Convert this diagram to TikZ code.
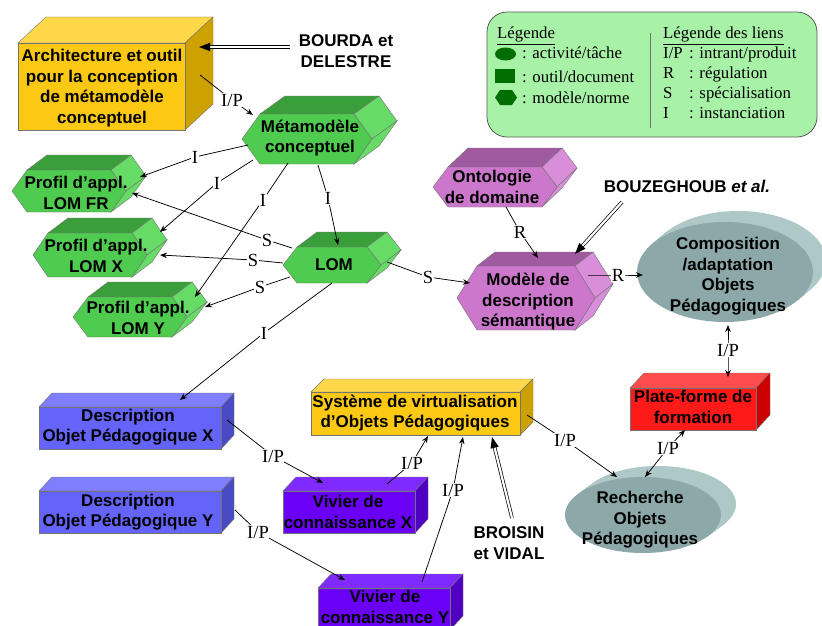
\documentclass[tikz,border=0pt]{standalone}
\usepackage{fontspec}
\setmainfont{Liberation Serif}
\setsansfont{Liberation Sans}
\usetikzlibrary{arrows.meta,calc}
\definecolor{yelF}{HTML}{FBC814}
\definecolor{yelT}{HTML}{FFD84A}
\definecolor{yelS}{HTML}{CCA100}
\definecolor{grnF}{HTML}{4FCB4F}
\definecolor{grnT}{HTML}{3A9E3A}
\definecolor{grnS}{HTML}{66DB66}
\definecolor{pnkF}{HTML}{CC77CC}
\definecolor{pnkT}{HTML}{A05AA0}
\definecolor{pnkS}{HTML}{D98ED9}
\definecolor{bluF}{HTML}{6464FA}
\definecolor{bluT}{HTML}{7E7EFF}
\definecolor{bluS}{HTML}{4A4AC2}
\definecolor{purF}{HTML}{6A00F6}
\definecolor{purT}{HTML}{7F2BFF}
\definecolor{purS}{HTML}{5000C2}
\definecolor{redF}{HTML}{FF1A1A}
\definecolor{redT}{HTML}{FF4D4D}
\definecolor{redS}{HTML}{CC0000}
\definecolor{gryF}{HTML}{8CA8A8}
\definecolor{gryB}{HTML}{AEC7C7}
\definecolor{legF}{HTML}{A8F2A8}
\definecolor{legS}{HTML}{006E00}
\tikzset{
 shapeline/.style={draw=black!55, line width=0.4pt},
 lab/.style={font=\sffamily\bfseries\fontsize{17}{20.5}\selectfont, align=center, inner sep=0pt},
 lbl/.style={font=\fontsize{18.5}{18.5}\selectfont, fill=white, inner sep=0.6pt},
 leg/.style={font=\fontsize{16.8}{20}\selectfont, anchor=base west, inner sep=0pt},
 arr/.style={draw=black, line width=0.75pt, -{Stealth[length=7pt,width=5.5pt]}},
 arrb/.style={draw=black, line width=0.75pt, {Stealth[length=7pt,width=5.5pt]}-{Stealth[length=7pt,width=5.5pt]}},
}
\newcommand{\cuboid}[7]{%
 \filldraw[fill=#7T,shapeline] (#1,#2) -- ({#1+#5},{#2-#6}) -- ({#3+#5},{#2-#6}) -- (#3,#2) -- cycle;
 \filldraw[fill=#7S,shapeline] (#3,#2) -- ({#3+#5},{#2-#6}) -- ({#3+#5},{#4-#6}) -- (#3,#4) -- cycle;
 \filldraw[fill=#7F,shapeline] (#1,#2) rectangle (#3,#4);}
\newcommand{\hexprism}[8]{%
 \filldraw[fill=#8T,shapeline] ({#1-#3+#5},{#2-#4}) -- ({#1-#3+#5+#6},{#2-#4-#7}) -- ({#1+#3-#5+#6},{#2-#4-#7}) -- ({#1+#3-#5},{#2-#4}) -- cycle;
 \filldraw[fill=#8S,shapeline] ({#1+#3-#5},{#2-#4}) -- ({#1+#3-#5+#6},{#2-#4-#7}) -- ({#1+#3+#6},{#2-#7}) -- ({#1+#3},{#2}) -- cycle;
 \filldraw[fill=#8S,shapeline] ({#1+#3},{#2}) -- ({#1+#3+#6},{#2-#7}) -- ({#1+#3-#5+#6},{#2+#4-#7}) -- ({#1+#3-#5},{#2+#4}) -- cycle;
 \filldraw[fill=#8F,shapeline] ({#1-#3},{#2}) -- ({#1-#3+#5},{#2-#4}) -- ({#1+#3-#5},{#2-#4}) -- ({#1+#3},{#2}) -- ({#1+#3-#5},{#2+#4}) -- ({#1-#3+#5},{#2+#4}) -- cycle;}
\newcommand{\disc}[6]{%
 \foreach \k in {10,9,...,1}{\fill[gryB] ({#1+\k*#5/10},{#2-\k*#6/10}) ellipse [x radius=#3, y radius=#4];}
 \fill[gryF] (#1,#2) ellipse [x radius=#3, y radius=#4];}
\newcommand{\dbl}[2]{%
 \coordinate (#1base) at ($(#2)!11pt!(#1)$);
 \coordinate (#1end) at ($(#2)!9pt!(#1)$);
 \draw[line width=0.7pt, double distance=2.2pt] (#1) -- (#1end);
 \fill[black] (#2) -- ($(#1base)!4.2pt!90:(#2)$) -- ($(#1base)!4.2pt!-90:(#2)$) -- cycle;}
\begin{document}
\begin{tikzpicture}[x=1pt,y=-1pt]
\useasboundingbox (0,0) rectangle (822,626);
\clip (0,0) rectangle (822,626);
\fill[white] (0,0) rectangle (822,626);

% legend
\filldraw[fill=legF, draw=black!65, line width=0.8pt, rounded corners=20pt] (487,12) rectangle (817,137);
\draw[black!55, line width=0.8pt] (650,33) -- (650,128);
\fill[legS] (505.5,54) ellipse [x radius=10.5, y radius=6.5];
\fill[legS] (495,69) rectangle (515,83);
\fill[legS] (495,97.5) -- (500,90) -- (512,90) -- (517,97.5) -- (512,105) -- (500,105) -- cycle;
\node[leg] (lg0) at (497,39) {\underline{Légende}};
\node[leg] (lg1) at (522,59) {: activité/tâche};
\node[leg] (lg2) at (522,82) {: outil/document};
\node[leg] (lg3) at (522,103) {: modèle/norme};
\node[leg] (lh0) at (663,39) {\underline{Légende des liens}};
\node[leg] (lh1) at (663,59) {I/P};
\node[leg] (lh1b) at (689,59) {: intrant/produit};
\node[leg] (lh2) at (663,78) {R};
\node[leg] (lh2b) at (689,78) {: régulation};
\node[leg] (lh3) at (663,98) {S};
\node[leg] (lh3b) at (689,98) {: spécialisation};
\node[leg] (lh4) at (663,118) {I};
\node[leg] (lh4b) at (689,118) {: instanciation};

% shapes
\cuboid{18}{43}{185}{130}{28}{26}{yel}
\node[lab] (arch) at (102,88) {Architecture et outil\\pour la conception\\de métamodèle\\conceptuel};
\hexprism{307}{139}{65}{25}{18}{25}{18}{grn}
\node[lab] (meta) at (310,138) {Métamodèle\\conceptuel};
\hexprism{69}{191}{57}{21}{15}{20}{15}{grn}
\node[lab] (lomfr) at (76,193) {Profil d’appl.\\LOM FR};
\hexprism{90}{255}{57}{22}{15}{20}{15}{grn}
\node[lab] (lomx) at (96,256) {Profil d’appl.\\LOM X};
\hexprism{130}{317}{57}{20}{15}{20}{15}{grn}
\node[lab] (lomy) at (138,318) {Profil d’appl.\\LOM Y};
\hexprism{332}{265}{49}{18}{14}{20}{15}{grn}
\node[lab] (lom) at (334,265) {LOM};
\hexprism{495}{187}{62}{20}{15}{20}{19}{pnk}
\node[lab] (onto) at (492,187) {Ontologie\\de domaine};
\hexprism{526}{298}{69}{32}{20}{18}{14}{pnk}
\node[lab] (modele) at (528,302) {Modèle de\\description\\sémantique};
\disc{725}{272}{88}{50}{13}{11}
\node[lab] (compo) at (728,276) {Composition\\/adaptation\\Objets\\Pédagogiques};
\disc{643}{515}{78}{38}{15}{11}
\node[lab] (rech) at (640,520) {Recherche\\Objets\\Pédagogiques};
\cuboid{630}{388}{756}{430}{14}{15}{red}
\node[lab] (plate) at (693,407) {Plate-forme de\\formation};
\cuboid{311}{392}{520}{435}{13}{13}{yel}
\node[lab] (sys) at (415,413) {Système de virtualisation\\d’Objets Pédagogiques};
\cuboid{283}{491}{415}{533}{13}{14}{pur}
\node[lab] (vivx) at (348,512) {Vivier de\\connaissance X};
\cuboid{318}{588}{450}{630}{13}{14}{pur}
\node[lab] (vivy) at (385,607) {Vivier de\\connaissance Y};
\cuboid{39}{407}{221}{449}{13}{14}{blu}
\node[lab] (descx) at (128,427) {Description\\Objet Pédagogique X};
\cuboid{39}{491}{221}{533}{13}{14}{blu}
\node[lab] (descy) at (128,512) {Description\\Objet Pédagogique Y};

\node[lab] (bourda) at (346,51) {BOURDA et\\DELESTRE};
\node[lab] (bouz) at (687,186) {BOUZEGHOUB \textit{et al.}};
\node[lab] (broisin) at (509,543) {BROISIN\\et VIDAL};

% connectors
\draw[arr] ([shift={(98,-13)}]arch.center) -- (232,100) node[lbl] (c1) {I/P} -- ([shift={(-57,-23)}]meta.center);
\draw[arr] ([shift={(-62,7)}]meta.center) -- (195,157) node[lbl] (c2) {I} -- ([shift={(64,-16)}]lomfr.center);
\draw[arr] ([shift={(-57,22)}]meta.center) -- (217,183) node[lbl] (c3) {I} -- ([shift={(64,-24)}]lomx.center);
\draw[arr] ([shift={(-22,25)}]meta.center) -- (263,200) node[lbl] (c4) {I} -- ([shift={(57,-21)}]lomy.center);
\draw[arr] ([shift={(8,27)}]meta.center) -- (328,198) node[lbl] (c5) {I} -- ([shift={(4,-20)}]lom.center);
\draw[arr] ([shift={(-42,-17)}]lom.center) -- (267,240) node[lbl] (c6) {S} -- ([shift={(56,0)}]lomfr.center);
\draw[arr] ([shift={(-51,-2)}]lom.center) -- (253,260) node[lbl] (c7) {S} -- ([shift={(64,-1)}]lomx.center);
\draw[arr] ([shift={(-44,12)}]lom.center) -- (260,287) node[lbl] (c8) {S} -- ([shift={(67,-11)}]lomy.center);
\draw[arr] ([shift={(53,-3)}]lom.center) -- (428,277) node[lbl] (c9) {S} -- ([shift={(-58,-19)}]modele.center);
\draw[arr] ([shift={(-2,18)}]lom.center) -- (264,333) node[lbl] (c10) {I} -- ([shift={(52,-27)}]descx.center);
\draw[arr] ([shift={(14,20)}]onto.center) -- (520,232) node[lbl] (c11) {R} -- ([shift={(10,-44)}]modele.center);
\draw[arr] ([shift={(60,-27)}]modele.center) -- (618,275) node[lbl] (c12) {R} -- ([shift={(-85,-1)}]compo.center);
\draw[arrb] ([shift={(35,-30)}]plate.center) -- (728,350) node[lbl] (c13) {I/P} -- ([shift={(0,49)}]compo.center);
\draw[arr] ([shift={(112,2)}]sys.center) -- (565,440) node[lbl] (c14) {I/P} -- ([shift={(-23,-43)}]rech.center);
\draw[arrb] ([shift={(5,-43)}]rech.center) -- (668,448) node[lbl] (c15) {I/P} -- ([shift={(-8,23)}]plate.center);
\draw[arr] ([shift={(99,-7)}]descx.center) -- (273,456) node[lbl] (c16) {I/P} -- ([shift={(-25,-29)}]vivx.center);
\draw[arr] ([shift={(107,-2)}]descy.center) -- (258,532) node[lbl] (c17) {I/P} -- ([shift={(-40,-27)}]vivy.center);
\draw[arr] ([shift={(39,-28)}]vivx.center) -- (412,463) node[lbl] (c18) {I/P} -- ([shift={(13,23)}]sys.center);
\draw[arr] ([shift={(37,-25)}]vivy.center) -- (453,490) node[lbl] (c19) {I/P} -- ([shift={(48,24)}]sys.center);

% double arrows
\coordinate (bdA) at ([shift={(-56,-4)}]bourda.center);
\coordinate (bdB) at ([shift={(97,-41)}]arch.center);
\dbl{bdA}{bdB}
\coordinate (bzA) at ([shift={(-65,16)}]bouz.center);
\coordinate (bzB) at ([shift={(47,-48)}]modele.center);
\dbl{bzA}{bzB}
\coordinate (brA) at ([shift={(3,-25)}]broisin.center);
\coordinate (brB) at ([shift={(77,24)}]sys.center);
\dbl{brA}{brB}
\end{tikzpicture}
\end{document}
